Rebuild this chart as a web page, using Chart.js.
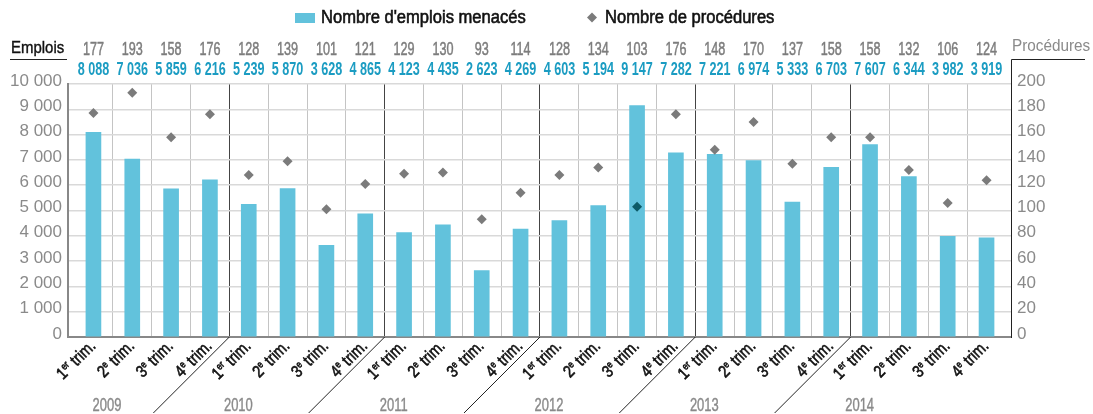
<!DOCTYPE html>
<html lang="fr">
<head>
<meta charset="utf-8">
<title>Emplois menacés et procédures</title>
<script src="https://cdn.jsdelivr.net/npm/chart.js@4.4.1/dist/chart.umd.min.js"></script>
<style>
  html, body { margin: 0; padding: 0; background: #fff; }
  #wrap { width: 1093px; height: 414px; position: relative; }
</style>
</head>
<body>
<div id="wrap"><canvas id="chart"></canvas></div>
<script>
const years = ["2009", "2010", "2011", "2012", "2013", "2014"];
const quarters = [["1", "er"], ["2", "e"], ["3", "e"], ["4", "e"]];
const emplois = [8088, 7036, 5859, 6216, 5239, 5870, 3628, 4865, 4123, 4435, 2623, 4269,
                 4603, 5194, 9147, 7282, 7221, 6974, 5333, 6703, 7607, 6344, 3982, 3919];
const procedures = [177, 193, 158, 176, 128, 139, 101, 121, 129, 130, 93, 114,
                    128, 134, 103, 176, 148, 170, 137, 158, 158, 132, 106, 124];

const SANS = '"Liberation Sans", Arial, sans-serif';
const BAR = "#62c2dc";
const TEAL = "#1b9cc2";
const GREY = "#8a8a8a";
const DIAMOND = "#7b7b7b";
const DIAMOND_DARK = "#0d5a66";

function fmt(v) {
  return String(v).replace(/\B(?=(\d{3})+(?!\d))/g, " ");
}

// squeezed text, the printed charts use a condensed face;
// "heavy" adds a thin outline so the regular face reads as medium
function text(ctx, str, x, y, font, color, squeeze, align, heavy) {
  ctx.save();
  ctx.font = font;
  ctx.fillStyle = color;
  ctx.strokeStyle = color;
  ctx.textBaseline = "middle";
  ctx.textAlign = align || "center";
  ctx.translate(x, y);
  ctx.scale(squeeze || 1, 1);
  ctx.fillText(str, 0, 0);
  if (heavy) {
    ctx.lineWidth = heavy;
    ctx.strokeText(str, 0, 0);
  }
  ctx.restore();
}

function quarterLabel(ctx, x, y, q) {
  const big = "17px " + SANS, small = "10px " + SANS;
  ctx.save();
  ctx.translate(x, y);
  ctx.rotate(-Math.PI / 4);
  ctx.scale(0.84, 1);
  ctx.fillStyle = "#111";
  ctx.strokeStyle = "#111";
  ctx.lineWidth = 0.6;
  ctx.textBaseline = "alphabetic";
  ctx.textAlign = "left";
  ctx.font = big;
  const w1 = ctx.measureText(q[0]).width;
  const w3 = ctx.measureText(" trim.").width;
  ctx.font = small;
  const w2 = ctx.measureText(q[1]).width;
  let cx = -(w1 + w2 + w3);
  const put = (s, px, py) => { ctx.fillText(s, px, py); ctx.strokeText(s, px, py); };
  ctx.font = big;
  put(q[0], cx, 0);
  cx += w1;
  ctx.font = small;
  put(q[1], cx, -6);
  cx += w2;
  ctx.font = big;
  put(" trim.", cx, 0);
  ctx.restore();
}

const decorations = {
  id: "decorations",
  afterDraw(chart) {
    const ctx = chart.ctx;
    const xs = chart.scales.x;
    const area = chart.chartArea;

    // value rows above the plot
    emplois.forEach((v, i) => {
      const x = xs.getPixelForValue(i);
      text(ctx, String(procedures[i]), x, 50, "18px " + SANS, "#7d7d7d", 0.7, "center", 0.5);
      text(ctx, fmt(v), x, 70, "bold 18px " + SANS, TEAL, 0.7);
    });

    // axis titles
    text(ctx, "Emplois", 11, 48, "17px " + SANS, "#111", 0.88, "left", 0.4);
    text(ctx, "Procédures", 1012, 46.5, "17px " + SANS, GREY, 0.9, "left");
    ctx.save();
    ctx.strokeStyle = "#222";
    ctx.lineWidth = 1;
    ctx.beginPath();
    ctx.moveTo(10, 59.5); ctx.lineTo(67, 59.5);
    ctx.moveTo(1011.5, 59.5); ctx.lineTo(1085, 59.5);
    ctx.moveTo(1011.5, 59.5); ctx.lineTo(1011.5, area.top);
    ctx.stroke();
    ctx.restore();

    // quarter labels
    emplois.forEach((v, i) => {
      quarterLabel(ctx, xs.getPixelForValue(i) + 3, area.bottom + 10, quarters[i % 4]);
    });

    // year separators and year names
    ctx.save();
    ctx.strokeStyle = "#222";
    ctx.lineWidth = 1;
    years.forEach((y, k) => {
      const start = xs.getPixelForValue(4 * k - 0.5);
      if (k > 0) {
        ctx.beginPath();
        ctx.moveTo(start, area.bottom);
        ctx.lineTo(start - 76, 413);
        ctx.stroke();
      }
      const lx = k === 0 ? start + 33 : start + 9;
      text(ctx, y, lx, 406, "18px " + SANS, GREY, 0.72, "center", 0.4);
    });
    ctx.restore();

    // legend
    ctx.save();
    ctx.fillStyle = BAR;
    ctx.fillRect(295, 13, 20, 10);
    ctx.fillStyle = DIAMOND;
    ctx.beginPath();
    ctx.moveTo(592, 12.5); ctx.lineTo(597, 17.5); ctx.lineTo(592, 22.5); ctx.lineTo(587, 17.5);
    ctx.closePath();
    ctx.fill();
    ctx.restore();
    text(ctx, "Nombre d'emplois menacés", 321, 18, "18px " + SANS, "#111", 0.92, "left", 0.6);
    text(ctx, "Nombre de procédures", 605, 18, "18px " + SANS, "#111", 0.92, "left", 0.6);
  }
};

const boundaries = [];
for (let i = 0; i < emplois.length - 1; i++) boundaries.push(i + 0.5);

const ctx = document.getElementById("chart");
const chart = new Chart(ctx, {
  type: "bar",
  data: {
    datasets: [{
      type: "line",
      label: "Nombre de procédures",
      data: procedures.map((v, i) => ({ x: i, y: v })),
      yAxisID: "y2",
      showLine: false,
      pointStyle: "rectRot",
      pointRadius: 5,
      pointHoverRadius: 5,
      pointBorderWidth: 0,
      pointBackgroundColor: (c) => {
        // a diamond sitting inside its bar is drawn darker
        const i = c.dataIndex;
        return procedures[i] / 200 * 10000 < emplois[i] ? DIAMOND_DARK : DIAMOND;
      },
      order: 1
    }, {
      type: "bar",
      label: "Nombre d'emplois menacés",
      data: emplois.map((v, i) => ({ x: i, y: v })),
      yAxisID: "y",
      backgroundColor: BAR,
      barThickness: 15,
      order: 2
    }]
  },
  options: {
    responsive: true,
    maintainAspectRatio: false,
    animation: false,
    devicePixelRatio: 1,
    layout: { padding: { top: 84, left: 0, right: 0, bottom: 0 } },
    plugins: {
      legend: { display: false },
      tooltip: { enabled: false }
    },
    scales: {
      x: {
        type: "linear",
        offset: false,
        min: -0.655,
        max: 23.63,
        afterBuildTicks: (scale) => {
          scale.ticks = boundaries.map(v => ({ value: v }));
        },
        afterFit: (scale) => { scale.height = 77; },
        ticks: { display: false },
        grid: {
          offset: false,
          drawTicks: false,
          lineWidth: 1,
          color: (c) => (c.tick && (c.tick.value + 0.5) % 4 === 0 ? "#444" : "#c4c4c4")
        },
        border: { color: "#888", width: 2 }
      },
      y: {
        position: "left",
        min: 0,
        max: 10000,
        afterFit: (scale) => { scale.width = 68; },
        ticks: {
          stepSize: 1000,
          padding: 6,
          labelOffset: -3,
          color: GREY,
          font: { family: SANS, size: 17 },
          callback: (v) => fmt(v)
        },
        grid: { drawTicks: false, color: "#d9d9d9", lineWidth: 1.5 },
        border: { color: "#888", width: 2 }
      },
      y2: {
        position: "right",
        min: 0,
        max: 200,
        afterFit: (scale) => { scale.width = 82; },
        ticks: {
          stepSize: 20,
          padding: 6,
          labelOffset: -3,
          color: GREY,
          font: { family: SANS, size: 17 }
        },
        grid: { drawOnChartArea: false, drawTicks: false },
        border: { color: "#222", width: 1 }
      }
    }
  },
  plugins: [decorations]
});
</script>
</body>
</html>
